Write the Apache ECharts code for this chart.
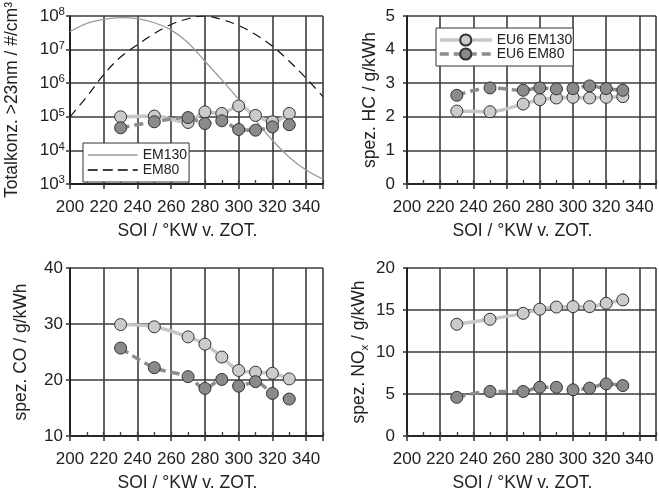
<!DOCTYPE html>
<html>
<head>
<meta charset="utf-8">
<script src="https://cdn.jsdelivr.net/npm/echarts@6/dist/echarts.min.js"></script>
<style>
html,body{margin:0;padding:0;background:#fff;}
#c{width:659px;height:493px;}
</style>
</head>
<body>
<div id="c"></div>
<script>
// ---- data ----
const soi = [230, 250, 270, 280, 290, 300, 310, 320, 330];
const pnEM130 = [1.0e5, 1.05e5, 6.8e4, 1.4e5, 1.26e5, 2.1e5, 1.1e5, 7.1e4, 1.26e5];
const pnEM80 = [4.7e4, 7.1e4, 9.5e4, 6.3e4, 7.6e4, 4.2e4, 4.0e4, 5.0e4, 5.8e4];
const hcEM130 = [2.17, 2.15, 2.38, 2.51, 2.56, 2.58, 2.56, 2.58, 2.6];
const hcEM80 = [2.64, 2.86, 2.79, 2.86, 2.83, 2.84, 2.92, 2.84, 2.79];
const coEM130 = [29.9, 29.5, 27.7, 26.4, 24.1, 21.7, 21.4, 21.2, 20.2];
const coEM80 = [25.7, 22.2, 20.6, 18.5, 20.1, 18.9, 19.7, 17.6, 16.6];
const noxEM130 = [13.3, 13.9, 14.6, 15.1, 15.35, 15.4, 15.4, 15.8, 16.2];
const noxEM80 = [4.6, 5.3, 5.3, 5.8, 5.8, 5.5, 5.7, 6.2, 6.0];
const curveSOI = [200, 210, 220, 230, 240, 250, 260, 270, 280, 290, 300, 310, 320, 330, 340, 350];
const curveEM130 = [3.4e7, 6.0e7, 7.9e7, 8.9e7, 8.3e7, 6.3e7, 3.8e7, 1.6e7, 4.5e6, 1.26e6, 3.3e5, 7.9e4, 2.0e4, 6.3e3, 2.6e3, 1.4e3];
const curveEM80 = [1.0e5, 4.0e5, 1.8e6, 6.0e6, 1.4e7, 3.0e7, 5.6e7, 8.3e7, 1.0e8, 7.9e7, 5.2e7, 2.8e7, 1.26e7, 4.5e6, 1.4e6, 4.0e5];
const xTicks = [200, 220, 240, 260, 280, 300, 320, 340];

const font = '"Liberation Sans", Arial, Helvetica, sans-serif';
const txt = '#222';
const gridCol = '#3c3c3c';

function zip(xs, ys) { return xs.map((x, i) => [x, ys[i]]); }

const grids = [
  {left: 70, top: 16, width: 253, height: 168},
  {left: 407, top: 16, width: 252, height: 168},
  {left: 70, top: 268, width: 253, height: 169},
  {left: 407, top: 268, width: 252, height: 169}
];

const xAxes = [];
for (let g = 0; g < 4; g++) {
  xAxes.push({
    type: 'value', gridIndex: g, min: 200, max: 350, interval: 20,
    axisLine: {show: true, onZero: false, lineStyle: {color: '#111', width: 1.6}},
    axisTick: {show: true, length: 5, lineStyle: {color: gridCol, width: 1.6}},
    axisLabel: {fontSize: 17, color: txt, fontFamily: font, margin: 15,
      formatter: v => (xTicks.indexOf(v) >= 0 ? String(v) : '')},
    splitLine: {show: true, lineStyle: {color: gridCol, width: 1.6}},
    name: 'SOI / °KW v. ZOT.', nameLocation: 'middle', nameGap: 38,
    nameTextStyle: {fontSize: 17.5, color: txt, fontFamily: font, padding: [0, 18, 0, 0]}
  });
  xAxes.push({
    type: 'value', gridIndex: g, min: 200, max: 350, interval: 10, position: 'bottom',
    axisLine: {show: false},
    axisTick: {show: true, inside: true, length: 4, lineStyle: {color: gridCol, width: 1.3}},
    axisLabel: {show: false}, splitLine: {show: false}
  });
}

function yBase(g, extra) {
  return Object.assign({
    gridIndex: g, nameLocation: 'middle', nameRotate: 90,
    axisLine: {show: true, lineStyle: {color: '#111', width: 1.6}},
    axisTick: {show: true, length: 4, lineStyle: {color: gridCol, width: 1.6}},
    splitLine: {show: true, lineStyle: {color: gridCol, width: 1.6}},
    nameTextStyle: {fontSize: 17.5, color: txt, fontFamily: font}
  }, extra);
}

const yAxes = [
  yBase(0, {type: 'log', logBase: 10, min: 1e3, max: 1e8, name: 'Totalkonz. >23nm / #/cm³', nameGap: 49,
    axisLabel: {margin: 5, color: txt, fontFamily: font,
      formatter: v => '{b|10}{s|' + Math.round(Math.log10(v)) + '}',
      rich: {b: {fontSize: 17, lineHeight: 20, color: txt, fontFamily: font},
             s: {fontSize: 11.5, lineHeight: 11, verticalAlign: 'top', color: txt, fontFamily: font}}}}),
  yBase(1, {type: 'value', min: 0, max: 5, interval: 1, name: 'spez. HC / g/kWh', nameGap: 28,
    axisLabel: {margin: 12, fontSize: 17, color: txt, fontFamily: font}}),
  yBase(2, {type: 'value', min: 10, max: 40, interval: 10, name: 'spez. CO / g/kWh', nameGap: 40,
    axisLabel: {margin: 7, fontSize: 17, color: txt, fontFamily: font}}),
  yBase(3, {type: 'value', min: 0, max: 20, interval: 5, name: '{a|spez. NO}{s|x}{a| / g/kWh}', nameGap: 36,
    axisLabel: {margin: 12, fontSize: 17, color: txt, fontFamily: font},
    nameTextStyle: {fontSize: 17.5, color: txt, fontFamily: font,
      rich: {a: {fontSize: 17.5, lineHeight: 24, verticalAlign: 'middle', color: txt, fontFamily: font},
             s: {fontSize: 11.5, lineHeight: 11, verticalAlign: 'bottom', color: txt, fontFamily: font}}}})
];

function light(g, vals) {
  return {type: 'line', name: 'EU6 EM130', xAxisIndex: 2 * g, yAxisIndex: g, data: zip(soi, vals),
    smooth: 0.35, symbol: 'circle', symbolSize: 12, z: 3,
    itemStyle: {color: '#cbcbcb', borderColor: '#333', borderWidth: 1},
    lineStyle: {color: '#c6c6c6', width: 3.5}};
}
function dark(g, vals) {
  return {type: 'line', name: 'EU6 EM80', xAxisIndex: 2 * g, yAxisIndex: g, data: zip(soi, vals),
    smooth: 0.35, symbol: 'circle', symbolSize: 12, z: 4,
    itemStyle: {color: '#8a8a8a', borderColor: '#333', borderWidth: 1},
    lineStyle: {color: '#8c8c8c', width: 3.5, type: [9, 5]}};
}

const series = [
  {type: 'line', name: 'EM130', xAxisIndex: 0, yAxisIndex: 0, data: zip(curveSOI, curveEM130),
    smooth: 0.4, symbol: 'none', z: 2, lineStyle: {color: '#9a9a9a', width: 1.3}},
  {type: 'line', name: 'EM80', xAxisIndex: 0, yAxisIndex: 0, data: zip(curveSOI, curveEM80),
    smooth: 0.4, symbol: 'none', z: 2, lineStyle: {color: '#111', width: 1.2, type: [9, 6]}},
  light(0, pnEM130), dark(0, pnEM80),
  light(1, hcEM130), dark(1, hcEM80),
  light(2, coEM130), dark(2, coEM80),
  light(3, noxEM130), dark(3, noxEM80)
];

const chart = echarts.init(document.getElementById('c'), null, {renderer: 'canvas'});
chart.setOption({
  animation: false,
  backgroundColor: '#fff',
  grid: grids,
  xAxis: xAxes,
  yAxis: yAxes,
  legend: [
    {left: 83, top: 143, orient: 'vertical', selectedMode: false,
      data: [
        {name: 'EM130', itemStyle: {opacity: 0}, lineStyle: {width: 1.4, color: '#9a9a9a', type: 'solid'}},
        {name: 'EM80', itemStyle: {opacity: 0}, lineStyle: {width: 1.5, color: '#000', type: [10, 5]}}
      ],
      itemWidth: 50, itemHeight: 14, itemGap: 1, padding: [5, 2, 5, 4],
      borderColor: '#333', borderWidth: 1, backgroundColor: '#fff',
      textStyle: {fontSize: 14, color: txt, fontFamily: font}},
    {left: 436, top: 28, orient: 'vertical', selectedMode: false,
      data: [
        {name: 'EU6 EM130', lineStyle: {width: 3.5, color: '#c6c6c6', type: 'solid'}},
        {name: 'EU6 EM80', lineStyle: {width: 3.5, color: '#8c8c8c', type: [9, 5]}}
      ],
      itemWidth: 52, itemHeight: 14, itemGap: 0, padding: [5, 1, 5, 2],
      borderColor: '#333', borderWidth: 1, backgroundColor: '#fff',
      textStyle: {fontSize: 14, color: txt, fontFamily: font}}
  ],
  series: series
});
</script>
</body>
</html>
